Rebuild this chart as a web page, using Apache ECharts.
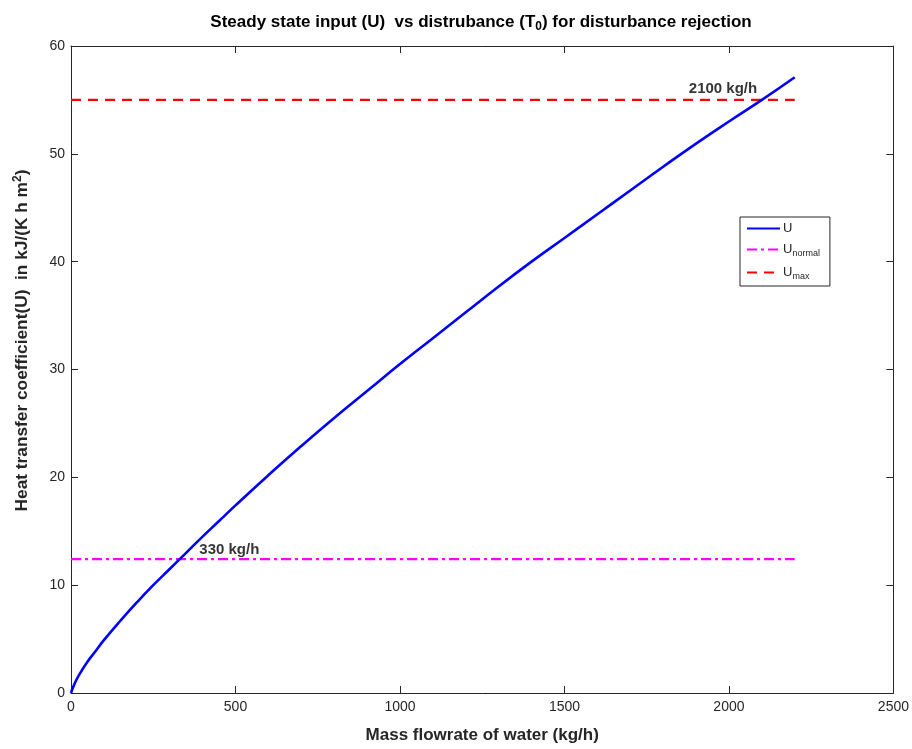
<!DOCTYPE html>
<html>
<head>
<meta charset="utf-8">
<script src="https://cdn.jsdelivr.net/npm/echarts@6/dist/echarts.min.js"></script>
<style>html,body{margin:0;padding:0;background:#fff}#c{width:912px;height:749px}</style>
</head>
<body>
<div id="c"></div>
<script>
// Mass flowrate of water (kg/h)
var flow = [0, 10, 25, 50, 75, 100, 150, 200, 250, 300, 350, 400, 450, 500, 600, 700, 800, 900, 1000, 1100, 1200, 1300, 1400, 1500, 1600, 1700, 1800, 1900, 2000, 2100, 2200];
// Heat transfer coefficient U
var uValues = [0, 0.8, 1.7, 2.9, 3.9, 4.9, 6.7, 8.4, 10.0, 11.5, 13.0, 14.5, 15.95, 17.4, 20.2, 22.9, 25.5, 28.0, 30.5, 32.9, 35.3, 37.7, 40.0, 42.2, 44.4, 46.6, 48.8, 50.95, 53.0, 55.0, 57.1];
var uNormal = 12.42;
var uMax = 55;
var lineRange = [0, 2200];
// annotations: [x, y, text]
var annotations = [[390, 13.3, '330 kg/h'], [1878, 56.0, '2100 kg/h']];

var FONT = 'Liberation Sans, Arial, Helvetica, sans-serif';
var AX = '#262626';

function pairs(xs, ys){ return xs.map(function(x,i){ return [x, ys[i]]; }); }

var chart = echarts.init(document.getElementById('c'), null, {renderer:'canvas'});
function axisCommon(){
  return {
    axisLine:{show:true, onZero:false, lineStyle:{color:AX, width:1}},
    axisTick:{show:true, inside:true, length:7, lineStyle:{color:AX}},
    splitLine:{show:false}
  };
}
var tickLabel = {fontFamily:FONT, fontSize:14, color:AX, formatter:function(v){return String(v);}};
var option = {
  backgroundColor:'#fff',
  animation:false,
  textStyle:{fontFamily:FONT},
  title:{
    text:'Steady state input (U)  vs distrubance (T{sub|0}) for disturbance rejection',
    left:476, top:6, textAlign:'center',
    textStyle:{fontFamily:FONT, fontSize:17, fontWeight:'bold', color:'#000',
      rich:{sub:{fontFamily:FONT, fontSize:12, fontWeight:'bold', color:'#000', padding:[10,0,0,0]}}}
  },
  grid:{left:71, right:17, top:46, bottom:55, containLabel:false},
  legend:{
    orient:'vertical', left:740, top:217,
    data:['U','U_normal','U_max'],
    backgroundColor:'#fff', borderColor:AX, borderWidth:1, borderRadius:0,
    padding:[5,10,5,6], itemGap:8, itemWidth:33, itemHeight:14,
    itemStyle:{opacity:0},
    formatter:function(n){
      if(n==='U_normal') return 'U{sub|normal}';
      if(n==='U_max') return 'U{sub|max}';
      return n;
    },
    textStyle:{fontFamily:FONT, fontSize:13, color:AX, padding:[0,0,0,-2],
      rich:{sub:{fontFamily:FONT, fontSize:9, color:AX, padding:[8,0,0,0]}}}
  },
  xAxis:[
    Object.assign({type:'value', min:0, max:2500, interval:500, position:'bottom',
      name:'Mass flowrate of water (kg/h)', nameLocation:'middle', nameGap:34,
      nameTextStyle:{fontFamily:FONT, fontSize:17, fontWeight:'bold', color:AX},
      axisLabel:Object.assign({margin:7}, tickLabel)}, axisCommon()),
    Object.assign({type:'value', min:0, max:2500, interval:500, position:'top',
      axisLabel:{show:false}}, axisCommon())
  ],
  yAxis:[
    Object.assign({type:'value', min:0, max:60, interval:10, position:'left',
      name:'Heat transfer coefficient(U)  in kJ/(K h m{sup|2})', nameLocation:'middle', nameGap:38,
      nameTextStyle:{fontFamily:FONT, fontSize:17.3, fontWeight:'bold', color:AX, padding:[0,0,0,58],
        rich:{sup:{fontFamily:FONT, fontSize:12, fontWeight:'bold', color:AX, padding:[0,0,9,0]}}},
      axisLabel:Object.assign({margin:6}, tickLabel)}, axisCommon()),
    Object.assign({type:'value', min:0, max:60, interval:10, position:'right',
      axisLabel:{show:false}}, axisCommon())
  ],
  series:[
    {name:'U', type:'line', data:pairs(flow,uValues), symbol:'none', smooth:true,
      lineStyle:{color:'#0000ff', width:2.6}, itemStyle:{color:'#0000ff'}, z:5},
    {name:'U_normal', type:'line', symbol:'none',
      data:[{value:[lineRange[0],uNormal], label:{show:true, position:'left', distance:5, formatter:String(uNormal),
        fontFamily:FONT, fontSize:14, fontWeight:'bold', color:'#000'}}, [lineRange[1],uNormal]],
      lineStyle:{color:'#ff00ff', width:2.2, type:[10,4,3,4]}, itemStyle:{color:'#ff00ff'}, z:3},
    {name:'U_max', type:'line', symbol:'none',
      data:[{value:[lineRange[0],uMax], label:{show:true, position:'left', distance:4, formatter:String(uMax),
        fontFamily:FONT, fontSize:14, fontWeight:'bold', color:'#000'}}, [lineRange[1],uMax]],
      lineStyle:{color:'#ff0000', width:2.2, type:[10,7]}, itemStyle:{color:'#ff0000'}, z:3},
    {name:'ann', type:'scatter', symbolSize:0, silent:true,
      data:annotations.map(function(a){ return {value:[a[0],a[1]], name:a[2]}; }),
      label:{show:true, position:'right', distance:0, formatter:function(p){return p.name;},
        fontFamily:FONT, fontSize:15, fontWeight:'bold', color:'#000'}, z:6}
  ]
};
chart.setOption(option);
</script>
</body>
</html>
